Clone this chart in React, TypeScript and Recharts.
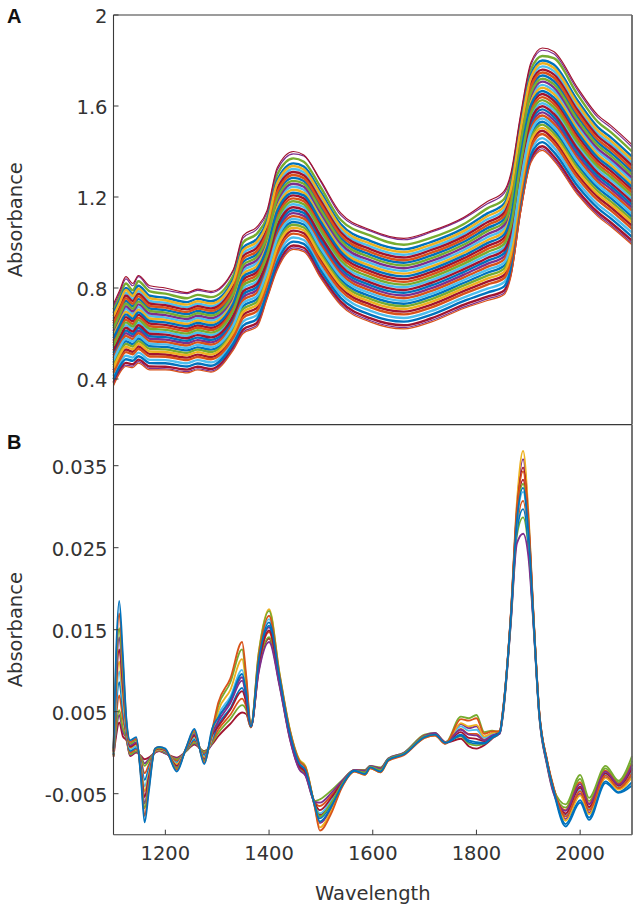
import React from 'react';
import { LineChart, Line, XAxis, YAxis } from 'recharts';

const wavelengthsA = [1100,1112,1124,1137,1148,1170,1200,1242,1262,1288,1331,1350,1377,1396,1416,1447,1467,1499,1538,1596,1660,1712,1775,1821,1853,1866,1885,1905,1927,1949,1995,2034,2059,2100];

const a01 = [.73,.79,.85,.82,.855,.81,.80,.78,.795,.785,.88,1.03,1.07,1.14,1.33,1.40,1.385,1.275,1.13,1.055,1.018,1.05,1.11,1.18,1.225,1.30,1.56,1.79,1.855,1.84,1.68,1.56,1.515,1.43];
const a02 = [.72,.78,.84,.81,.85,.80,.79,.775,.79,.78,.875,1.02,1.06,1.13,1.32,1.39,1.38,1.27,1.12,1.05,1.012,1.045,1.105,1.17,1.215,1.29,1.55,1.78,1.845,1.83,1.67,1.55,1.505,1.42];
const a03 = [.705,.765,.82,.79,.83,.785,.775,.755,.77,.76,.855,1.0,1.04,1.11,1.30,1.37,1.355,1.245,1.10,1.03,.99,1.02,1.08,1.15,1.19,1.27,1.53,1.76,1.82,1.81,1.65,1.53,1.485,1.40];
const a04 = [.69,.746,.80,.775,.81,.766,.757,.738,.752,.742,.838,.978,1.017,1.093,1.276,1.348,1.334,1.223,1.081,1.006,.97,1.002,1.062,1.128,1.17,1.245,1.508,1.737,1.80,1.782,1.624,1.507,1.462,1.377];
const a05 = [.676,.735,.791,.765,.797,.755,.746,.727,.742,.732,.827,.966,1.004,1.082,1.263,1.336,1.321,1.211,1.069,.994,.958,.99,1.05,1.115,1.157,1.232,1.496,1.724,1.788,1.768,1.61,1.493,1.448,1.364];
const a06 = [.665,.724,.779,.753,.786,.743,.735,.716,.731,.721,.816,.953,.991,1.07,1.249,1.323,1.309,1.198,1.057,.982,.946,.978,1.038,1.102,1.143,1.218,1.483,1.711,1.774,1.754,1.595,1.48,1.435,1.351];
const a07 = [.654,.714,.767,.742,.774,.732,.724,.706,.72,.71,.806,.94,.978,1.058,1.236,1.31,1.296,1.185,1.045,.97,.934,.966,1.026,1.089,1.129,1.204,1.47,1.698,1.76,1.739,1.581,1.467,1.422,1.338];
const a08 = [.644,.703,.755,.731,.763,.721,.714,.695,.71,.7,.795,.927,.964,1.046,1.222,1.297,1.283,1.172,1.033,.958,.922,.954,1.014,1.076,1.116,1.191,1.457,1.684,1.747,1.725,1.567,1.453,1.408,1.324];
const a09 = [.633,.692,.743,.72,.751,.71,.703,.685,.699,.689,.785,.914,.951,1.035,1.209,1.284,1.27,1.159,1.021,.946,.911,.942,1.002,1.063,1.102,1.177,1.444,1.671,1.734,1.71,1.553,1.44,1.395,1.311];
const a10 = [.622,.681,.732,.709,.74,.699,.692,.674,.689,.679,.774,.901,.938,1.023,1.195,1.271,1.258,1.146,1.009,.934,.899,.93,.99,1.05,1.089,1.164,1.431,1.658,1.72,1.696,1.539,1.427,1.382,1.298];
const a11 = [.611,.67,.72,.698,.728,.688,.681,.664,.678,.668,.764,.888,.925,1.011,1.182,1.258,1.245,1.133,.996,.921,.887,.918,.978,1.036,1.075,1.15,1.418,1.645,1.707,1.682,1.525,1.413,1.368,1.285];
const a12 = [.60,.659,.708,.687,.716,.677,.67,.653,.667,.657,.753,.875,.912,1.0,1.168,1.245,1.232,1.12,.984,.909,.875,.906,.966,1.023,1.061,1.136,1.405,1.632,1.693,1.667,1.511,1.40,1.355,1.272];
const a13 = [.59,.648,.696,.676,.705,.666,.66,.642,.657,.647,.742,.862,.898,.988,1.155,1.232,1.219,1.107,.972,.897,.863,.894,.954,1.01,1.048,1.123,1.392,1.618,1.68,1.653,1.497,1.386,1.341,1.258];
const a14 = [.579,.637,.684,.665,.693,.655,.649,.632,.646,.636,.732,.849,.885,.976,1.141,1.219,1.207,1.094,.96,.885,.851,.882,.942,.997,1.034,1.109,1.379,1.605,1.666,1.638,1.483,1.373,1.328,1.245];
const a15 = [.568,.626,.672,.654,.682,.644,.638,.621,.635,.625,.721,.837,.872,.965,1.128,1.207,1.194,1.082,.948,.873,.839,.87,.93,.984,1.02,1.095,1.367,1.592,1.653,1.624,1.469,1.36,1.315,1.232];
const a16 = [.557,.615,.66,.642,.67,.632,.627,.611,.625,.615,.711,.824,.859,.953,1.114,1.194,1.181,1.069,.936,.861,.827,.858,.918,.971,1.007,1.082,1.354,1.579,1.639,1.61,1.454,1.346,1.301,1.219];
const a17 = [.546,.604,.649,.631,.659,.621,.616,.6,.614,.604,.7,.811,.846,.941,1.1,1.181,1.168,1.056,.923,.848,.815,.846,.906,.958,.993,1.068,1.341,1.566,1.626,1.595,1.44,1.333,1.288,1.206];
const a18 = [.536,.593,.637,.62,.647,.61,.606,.589,.603,.593,.689,.798,.832,.929,1.087,1.168,1.156,1.043,.911,.836,.803,.834,.894,.945,.979,1.054,1.328,1.552,1.612,1.581,1.426,1.32,1.275,1.192];
const a19 = [.525,.583,.625,.609,.636,.599,.595,.579,.593,.583,.679,.785,.819,.918,1.074,1.155,1.143,1.03,.899,.824,.791,.822,.882,.932,.966,1.041,1.315,1.539,1.599,1.566,1.412,1.306,1.261,1.179];
const a20 = [.514,.572,.613,.598,.624,.588,.584,.568,.582,.572,.668,.772,.806,.906,1.06,1.142,1.13,1.017,.887,.812,.779,.81,.87,.919,.952,1.027,1.302,1.526,1.585,1.552,1.398,1.293,1.248,1.166];
const a21 = [.503,.561,.601,.587,.612,.577,.573,.558,.571,.561,.658,.759,.793,.894,1.047,1.129,1.117,1.004,.875,.8,.767,.798,.858,.906,.938,1.013,1.289,1.513,1.572,1.538,1.384,1.28,1.235,1.153];
const a22 = [.492,.55,.589,.576,.601,.566,.562,.547,.561,.551,.647,.746,.78,.883,1.033,1.116,1.105,.991,.863,.788,.755,.786,.846,.893,.925,1.0,1.276,1.5,1.558,1.523,1.37,1.266,1.221,1.14];
const a23 = [.482,.539,.577,.565,.589,.555,.552,.536,.55,.54,.636,.733,.766,.871,1.02,1.103,1.092,.978,.851,.776,.743,.774,.834,.88,.911,.986,1.263,1.486,1.545,1.509,1.356,1.253,1.208,1.126];
const a24 = [.471,.528,.566,.554,.578,.544,.541,.526,.539,.529,.626,.72,.753,.859,1.006,1.09,1.079,.965,.838,.763,.731,.762,.822,.867,.897,.972,1.25,1.473,1.531,1.494,1.342,1.24,1.195,1.113];
const a25 = [.46,.517,.554,.543,.566,.533,.53,.515,.529,.519,.615,.708,.74,.848,.993,1.078,1.066,.953,.826,.751,.72,.75,.81,.854,.884,.959,1.238,1.46,1.518,1.48,1.328,1.226,1.181,1.10];
const a26 = [.449,.506,.542,.531,.555,.521,.519,.505,.518,.508,.605,.695,.727,.836,.979,1.065,1.054,.94,.814,.739,.708,.738,.798,.841,.87,.945,1.225,1.447,1.504,1.466,1.313,1.213,1.168,1.087];
const a27 = [.438,.495,.53,.52,.543,.51,.508,.494,.507,.497,.594,.682,.714,.824,.966,1.052,1.041,.927,.802,.727,.696,.726,.786,.828,.856,.931,1.212,1.434,1.491,1.451,1.299,1.20,1.155,1.074];
const a28 = [.428,.484,.518,.509,.532,.499,.498,.483,.497,.487,.583,.669,.70,.812,.952,1.039,1.028,.914,.79,.715,.684,.714,.774,.815,.843,.918,1.199,1.42,1.477,1.437,1.285,1.186,1.141,1.06];
const a29 = [.413,.47,.502,.494,.516,.484,.483,.469,.483,.473,.569,.652,.683,.797,.934,1.022,1.011,.897,.774,.699,.668,.698,.758,.797,.825,.90,1.182,1.403,1.459,1.418,1.266,1.168,1.123,1.043];
const a30 = [.399,.455,.487,.48,.50,.47,.469,.455,.468,.458,.555,.634,.665,.781,.916,1.004,.994,.879,.757,.682,.652,.682,.742,.78,.806,.881,1.164,1.385,1.441,1.398,1.248,1.151,1.106,1.025];
const a31 = [.384,.441,.471,.465,.485,.455,.454,.441,.454,.444,.541,.617,.648,.766,.898,.987,.977,.862,.741,.666,.636,.666,.726,.762,.788,.863,1.147,1.368,1.423,1.379,1.229,1.133,1.088,1.008];
const a32 = [.375,.431,.461,.456,.476,.446,.445,.432,.445,.435,.532,.606,.637,.756,.887,.976,.966,.851,.731,.656,.626,.656,.716,.752,.777,.852,1.136,1.357,1.412,1.367,1.217,1.122,1.077,.997];
const a33 = [.37,.426,.455,.45,.47,.44,.44,.427,.44,.43,.527,.60,.63,.75,.88,.97,.96,.845,.725,.65,.62,.65,.71,.745,.77,.845,1.13,1.35,1.405,1.36,1.21,1.115,1.07,.99];
const seriesA = [a01,a02,a03,a04,a05,a06,a07,a08,a09,a10,a11,a12,a13,a14,a15,a16,a17,a18,a19,a20,a21,a22,a23,a24,a25,a26,a27,a28,a29,a30,a31,a32,a33];

const wavelengthsB = [1100,1105,1111,1118,1125,1132,1144,1153,1160,1168,1180,1188,1200,1222,1240,1256,1275,1290,1302,1325,1348,1356,1365,1380,1400,1420,1440,1458,1470,1488,1498,1520,1540,1565,1585,1595,1615,1630,1660,1700,1720,1740,1770,1785,1800,1815,1830,1845,1851,1866,1878,1890,1900,1910,1921,1936,1949,1972,2000,2017,2049,2074,2100];

const b01 = [.0005,.0122,.0185,.012,.004,.0015,.0019,-.0032,-.0085,-.0048,.0005,.0007,.0005,-.0023,.0006,.0029,-.0014,.0029,.0043,.0065,.0096,.0073,.0032,.0112,.0159,.0092,.0024,-.0013,-.0021,-.0064,-.0084,-.0066,-.0041,-.0022,-.0026,-.0018,-.0023,-.0009,-.0002,.0019,.0022,.0012,.0022,.0015,.0013,.0012,.0019,.0025,.0049,.0162,.0283,.0323,.027,.0163,.0049,-.0011,-.0046,-.0087,-.0058,-.0079,-.0035,-.0048,-.0036];
const b02 = [.0004,.0112,.017,.011,.0038,.0013,.0017,-.0029,-.0077,-.0044,.0005,.0007,.0004,-.0021,.0006,.0027,-.0012,.0027,.0061,.009,.0135,.0094,.0033,.0117,.0167,.0095,.0027,-.001,-.0018,-.0066,-.0095,-.0074,-.0043,-.0023,-.0027,-.0019,-.0024,-.001,-.0003,.0018,.0021,.0011,.0041,.0039,.0042,.0023,.0026,.0026,.005,.0164,.0293,.0343,.0281,.0166,.005,-.001,-.0044,-.0078,-.0047,-.007,-.0028,-.0043,-.0025];
const b03 = [.0003,.01,.0152,.0098,.0035,.0011,.0015,-.0026,-.0068,-.0039,.0004,.0006,.0004,-.0019,.0005,.0025,-.001,.0025,.0057,.0085,.0126,.0089,.0033,.0121,.0173,.0097,.0028,-.0009,-.0017,-.0063,-.0078,-.0061,-.0039,-.0022,-.0024,-.0017,-.0021,-.0008,-.0001,.002,.0022,.0012,.0044,.0042,.0046,.0025,.0027,.0025,.0049,.0162,.0285,.0328,.0273,.0164,.0049,-.0011,-.0045,-.0063,-.0027,-.0055,-.0016,-.0034,-.0004];
const b04 = [.0002,.0091,.0141,.009,.0033,.0009,.0013,-.0024,-.0062,-.0035,.0004,.0006,.0003,-.0018,.0005,.0023,-.0009,.0023,.0038,.006,.0088,.0068,.0032,.0098,.0135,.0082,.0017,-.002,-.0028,-.006,-.0061,-.0049,-.0035,-.0021,-.0022,-.0016,-.0019,-.0007,0,.0021,.0024,.0013,.0028,.0022,.0021,.0015,.0021,.0023,.0045,.0155,.0255,.0267,.024,.0155,.0045,-.0015,-.005,-.0071,-.0038,-.0063,-.0023,-.0039,-.0015];
const b05 = [.0001,.0081,.0126,.008,.003,.0007,.0011,-.002,-.0054,-.003,.0003,.0005,.0003,-.0016,.0004,.0021,-.0008,.0021,.0032,.0052,.0075,.0061,.0032,.0106,.0149,.0088,.0021,-.0016,-.0024,-.0061,-.007,-.0055,-.0037,-.0022,-.0023,-.0017,-.002,-.0008,-.0001,.002,.0023,.0012,.0025,.0018,.0017,.0014,.002,.0026,.0051,.0165,.0295,.0348,.0284,.0167,.0051,-.0009,-.0044,-.0074,-.0041,-.0066,-.0025,-.004,-.0019];
const b06 = [0,.0071,.0111,.007,.0028,.0006,.001,-.0018,-.0047,-.0027,.0002,.0004,.0002,-.0014,.0004,.002,-.0006,.002,.0051,.0076,.0114,.0082,.0033,.0122,.0175,.0098,.0029,-.0008,-.0016,-.0065,-.0091,-.0071,-.0042,-.0023,-.0027,-.0019,-.0024,-.001,-.0002,.0018,.0021,.0011,.0036,.0032,.0034,.002,.0024,.0027,.0052,.0167,.0305,.0368,.0295,.017,.0052,-.0008,-.0042,-.0083,-.0052,-.0075,-.0031,-.0045,-.003];
const b07 = [-.0001,.0063,.0099,.0062,.0026,.0004,.0008,-.0016,-.0041,-.0024,.0002,.0004,.0002,-.0013,.0004,.0018,-.0005,.0018,.0045,.0068,.0101,.0075,.0032,.0115,.0163,.0093,.0025,-.0012,-.002,-.0062,-.0074,-.0058,-.0038,-.0022,-.0024,-.0017,-.0021,-.0008,-.0001,.002,.0022,.0012,.0032,.0027,.0028,.0018,.0023,.0025,.0048,.0161,.028,.0318,.0268,.0162,.0048,-.0012,-.0046,-.0077,-.0045,-.0069,-.0027,-.0042,-.0023];
const b08 = [-.0002,.0054,.0086,.0053,.0023,.0002,.0006,-.0013,-.0033,-.002,.0002,.0004,.0001,-.0012,.0003,.0016,-.0003,.0016,.0034,.0054,.0079,.0063,.0032,.011,.0155,.009,.0023,-.0014,-.0022,-.0063,-.008,-.0063,-.004,-.0022,-.0025,-.0018,-.0022,-.0009,-.0002,.002,.0022,.0012,.0021,.0013,.0011,.0011,.0018,.0024,.0047,.0159,.027,.0297,.0256,.0159,.0047,-.0013,-.0048,-.009,-.0061,-.0082,-.0037,-.0049,-.004];
const b09 = [-.0003,.0042,.007,.0042,.002,0,.0004,-.001,-.0025,-.0015,.0001,.0003,.0001,-.001,.0003,.0014,-.0001,.0014,.0028,.0046,.0066,.0056,.0031,.0105,.0147,.0087,.0021,-.0016,-.0024,-.006,-.0065,-.0052,-.0036,-.0021,-.0022,-.0017,-.0019,-.0008,-.0001,.0021,.0023,.0013,.0029,.0023,.0023,.0016,.0021,.0025,.0048,.016,.0275,.0307,.0262,.016,.0048,-.0012,-.0047,-.007,-.0036,-.0062,-.0022,-.0038,-.0014];
const b10 = [-.0004,.003,.0052,.003,.0018,-.0002,.0002,-.0006,-.0016,-.001,.0001,.0003,0,-.0008,.0002,.0012,.0001,.0012,.0024,.0041,.0058,.0052,.0031,.0102,.0141,.0084,.0019,-.0018,-.0026,-.0059,-.0057,-.0046,-.0034,-.0021,-.0021,-.0016,-.0018,-.0007,0,.0022,.0024,.0013,.002,.0011,.0009,.0011,.0018,.0024,.0046,.0157,.0265,.0287,.0251,.0158,.0046,-.0014,-.0049,-.0067,-.0032,-.0059,-.0019,-.0036,-.001];
const b11 = [-.0003,.0026,.0046,.0026,.0017,-.0003,.0001,-.0005,-.0013,-.0008,0,.0002,-.0001,-.0007,.0002,.0011,.0001,.0011,.004,.0062,.0092,.007,.0032,.0109,.0153,.0089,.0022,-.0015,-.0023,-.0065,-.0086,-.0068,-.0041,-.0022,-.0026,-.0018,-.0023,-.0009,-.0002,.0019,.0022,.0011,.0035,.003,.0032,.0019,.0024,.0026,.0052,.0166,.03,.0358,.029,.0168,.0051,-.0009,-.0043,-.0081,-.005,-.0073,-.003,-.0044,-.0029];
const b12 = [-.0005,.002,.0037,.002,.0015,-.0004,0,-.0004,-.0008,-.0006,0,.0002,-.0001,-.0006,.0002,.001,.0002,.001,.002,.0035,.0049,.0047,.0031,.01,.0139,.0084,.0018,-.0019,-.0027,-.0063,-.0076,-.006,-.0039,-.0022,-.0024,-.0017,-.0021,-.0008,-.0001,.002,.0022,.0012,.0017,.0008,.0005,.0009,.0017,.0025,.0049,.0163,.0288,.0333,.0276,.0165,.0049,-.001,-.0045,-.0076,-.0043,-.0068,-.0026,-.0041,-.0021];
const seriesB = [b01,b02,b03,b04,b05,b06,b07,b08,b09,b10,b11,b12];

const xTicks = [1200,1400,1600,1800,2000];
const yTicksA = [0.4,0.8,1.2,1.6,2];
const yTicksB = [-0.005,0.005,0.015,0.025,0.035];
const palette = ['#0072BD','#D95319','#EDB120','#7E2F8E','#77AC30','#4DBEEE','#A2142F'];
const colourIndexA = [6,3,4,0,2,5,6,1,0,4,3,5,2,0,6,1,4,5,6,0,3,1,5,0,4,2,6,1,5,0,6,3,1];
const drawOrderA = [5,17,28,2,11,23,8,30,14,20,1,26,6,19,31,10,24,3,15,29,7,21,12,27,4,18,9,25,13,22,16,0,32];
const colourIndexB = [0,1,4,3,6,2,5,0,1,4,3,6];
const drawOrderB = [11,10,9,8,7,6,5,4,3,2,1,0];

const buildRows = (xs: number[], series: number[][]) =>
  xs.map((w, i) => {
    const row: Record<string, number> = { w };
    series.forEach((s, j) => { row['s' + j] = s[i]; });
    return row;
  });
const rowsA = buildRows(wavelengthsA, seriesA);
const rowsB = buildRows(wavelengthsB, seriesB);

const FONT = '"DejaVu Sans", sans-serif';
const INK = '#3a3a3a';
const tickStyle = { fontFamily: FONT, fontSize: 19.5, fill: '#333' };
const yTickStyle = { ...tickStyle, dy: 1 };
const axisLine = { stroke: INK, strokeWidth: 1.1 };
const rightLine = { stroke: '#666', strokeWidth: 1.8 };
const tickLine = { stroke: INK, strokeWidth: 1 };
const labelStyle = { fontFamily: FONT, fontSize: 19.5, fill: '#333', textAnchor: 'middle' as const };

function Panel({ rows, order, colours, domain, yTicks, fmt, width, topH, bottomH, height, showX, thin }: any) {
  return (
    <LineChart width={638} height={height} data={rows} margin={{ top: 0, right: 0, bottom: 0, left: 0 }}>
      <XAxis xAxisId="t" orientation="top" dataKey="w" type="number" domain={[1100, 2100]} ticks={xTicks} height={topH} tick={false} tickSize={-5} axisLine={axisLine} tickLine={tickLine} />
      <XAxis dataKey="w" type="number" domain={[1100, 2100]} ticks={xTicks} height={bottomH} tick={showX ? tickStyle : false} tickSize={-5} tickMargin={16} axisLine={axisLine} tickLine={tickLine} interval={0}
        label={showX ? { value: 'Wavelength', position: 'insideBottom', offset: 10, style: labelStyle } : undefined} />
      <YAxis domain={domain} ticks={yTicks} width={113.5} tick={yTickStyle} tickFormatter={fmt} tickSize={-5} tickMargin={11} axisLine={axisLine} tickLine={tickLine} interval={0} allowDataOverflow
        label={{ value: 'Absorbance', angle: -90, position: 'insideLeft', offset: 15, style: labelStyle }} />
      <YAxis yAxisId="r" orientation="right" domain={domain} ticks={yTicks} width={6} tick={false} tickSize={-5} axisLine={rightLine} tickLine={tickLine} interval={0} allowDataOverflow />
      {order.map((i: number) => (
        <Line key={i} dataKey={'s' + i} type="monotone" dot={false} isAnimationActive={false} stroke={palette[colours[i]]}
          strokeWidth={thin && thin.includes(i) ? 1.2 : width} />
      ))}
    </LineChart>
  );
}

const panelLetter = { position: 'absolute' as const, left: 7, fontFamily: '"Liberation Sans", Arial, sans-serif', fontWeight: 700, fontSize: 20, lineHeight: '20px', color: '#111' };

export default function App() {
  return (
    <div style={{ position: 'absolute', left: 0, top: 0, width: 638, height: 910, background: '#fff', overflow: 'hidden' }}>
      <div style={{ position: 'absolute', left: 0, top: 0 }}>
        <Panel rows={rowsA} order={drawOrderA} colours={colourIndexA} domain={[0.2, 2]} yTicks={yTicksA} fmt={(v: number) => String(v)}
          width={2.4} topH={15} bottomH={5.5} height={430} showX={false} thin={[0, 1, 31, 32]} />
      </div>
      <div style={{ position: 'absolute', left: 0, top: 420 }}>
        <Panel rows={rowsB} order={drawOrderB} colours={colourIndexB} domain={[-0.01, 0.04]} yTicks={yTicksB} fmt={(v: number) => v.toFixed(3)}
          width={1.8} topH={4.7} bottomH={75.3} height={490} showX />
      </div>
      <div style={{ ...panelLetter, top: 6 }}>A</div>
      <div style={{ ...panelLetter, top: 432 }}>B</div>
    </div>
  );
}
